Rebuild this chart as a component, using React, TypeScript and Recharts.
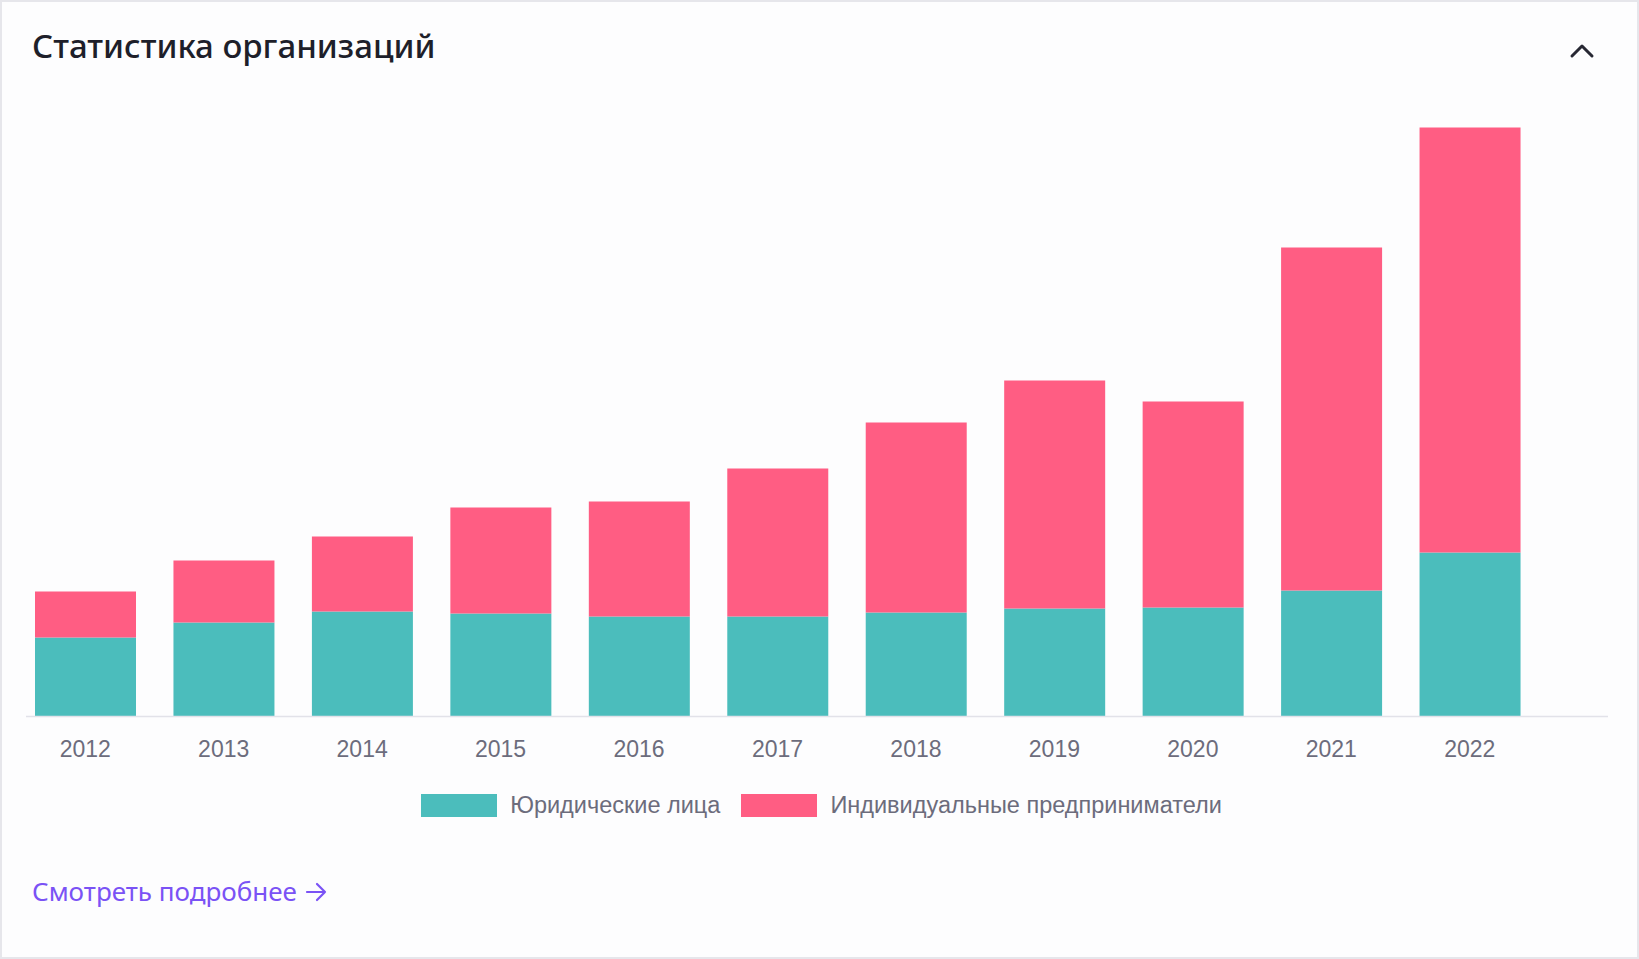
import React from "react";
import { BarChart, Bar, XAxis, YAxis } from "recharts";

const years = ["2012", "2013", "2014", "2015", "2016", "2017", "2018", "2019", "2020", "2021", "2022"];
const legalEntities = [79, 94, 105, 103, 100, 100, 104, 108, 109, 126, 164];
const entrepreneurs = [46, 62, 75, 106, 115, 148, 190, 228, 206, 343, 425];

const series = [
  { key: "legal", name: "Юридические лица", color: "#4BBDBC" },
  { key: "ip", name: "Индивидуальные предприниматели", color: "#FF5D83" },
];

const data = years.map((year, i) => ({
  year,
  legal: legalEntities[i],
  ip: entrepreneurs[i],
}));

const W = 1639;
const H = 959;

const App = () => {
  return (
    <div
      style={{
        position: "absolute",
        left: 0,
        top: 0,
        width: W,
        height: H,
        boxSizing: "border-box",
        border: "2px solid #e6e6eb",
        background: "#fdfdfe",
        overflow: "hidden",
      }}
    >
      <div
        style={{
          position: "absolute",
          left: 30,
          top: 21,
          fontFamily: "'Noto Sans', sans-serif",
          fontSize: 33,
          fontWeight: 500,
          color: "#1e1f2a",
          whiteSpace: "nowrap",
        }}
      >
        Статистика организаций
      </div>

      {/* collapse chevron */}
      <svg style={{ position: "absolute", left: 1566, top: 36 }} width={30} height={24}>
        <polyline points="4,18 14,8 24,18" fill="none" stroke="#272833" strokeWidth={3} strokeLinecap="round" strokeLinejoin="round" />
      </svg>

      <div style={{ position: "absolute", left: -2, top: -2 }}>
        <BarChart
          width={W}
          height={H}
          data={data}
          margin={{ top: 127.5, right: 31, bottom: 182.5, left: 26 }}
        >
          <XAxis
            dataKey="year"
            height={60}
            padding={{ left: -10, right: 69 }}
            tickLine={false}
            tickSize={0}
            tickMargin={24}
            axisLine={{ stroke: "#e2e2e9", strokeWidth: 1.5 }}
            tick={{ fill: "#6c6c7c", fontSize: 23, fontFamily: "'Liberation Sans', Arial, sans-serif" }}
          />
          <YAxis hide domain={[0, 589]} />
          {series.map((s) => (
            <Bar
              key={s.key}
              dataKey={s.key}
              name={s.name}
              stackId="a"
              fill={s.color}
              barSize={101}
              isAnimationActive={false}
            />
          ))}
        </BarChart>
      </div>

      <div
        style={{
          position: "absolute",
          left: 0,
          top: 790,
          width: W,
          display: "flex",
          justifyContent: "center",
          alignItems: "center",
          fontFamily: "'Liberation Sans', Arial, sans-serif",
          fontSize: 23.5,
          color: "#6c6c7c",
        }}
      >
        {series.map((s, i) => (
          <div key={s.key} style={{ display: "flex", alignItems: "center", marginLeft: i > 0 ? 21 : 0 }}>
            <div style={{ width: 76, height: 23, background: s.color, marginRight: 13 }} />
            <span>{s.name}</span>
          </div>
        ))}
      </div>

      <div
        style={{
          position: "absolute",
          left: 30,
          top: 871,
          display: "flex",
          alignItems: "center",
          fontFamily: "'Noto Sans', sans-serif",
          fontSize: 26,
          color: "#7a52f5",
          whiteSpace: "nowrap",
        }}
      >
        <span>Смотреть подробнее</span>
        <svg width={24} height={20} style={{ marginLeft: 8, marginTop: 2 }}>
          <path d="M2,10 H20 M12,2 L20,10 L12,18" fill="none" stroke="#7a52f5" strokeWidth={2.2} strokeLinecap="round" strokeLinejoin="round" />
        </svg>
      </div>
    </div>
  );
};

export default App;
